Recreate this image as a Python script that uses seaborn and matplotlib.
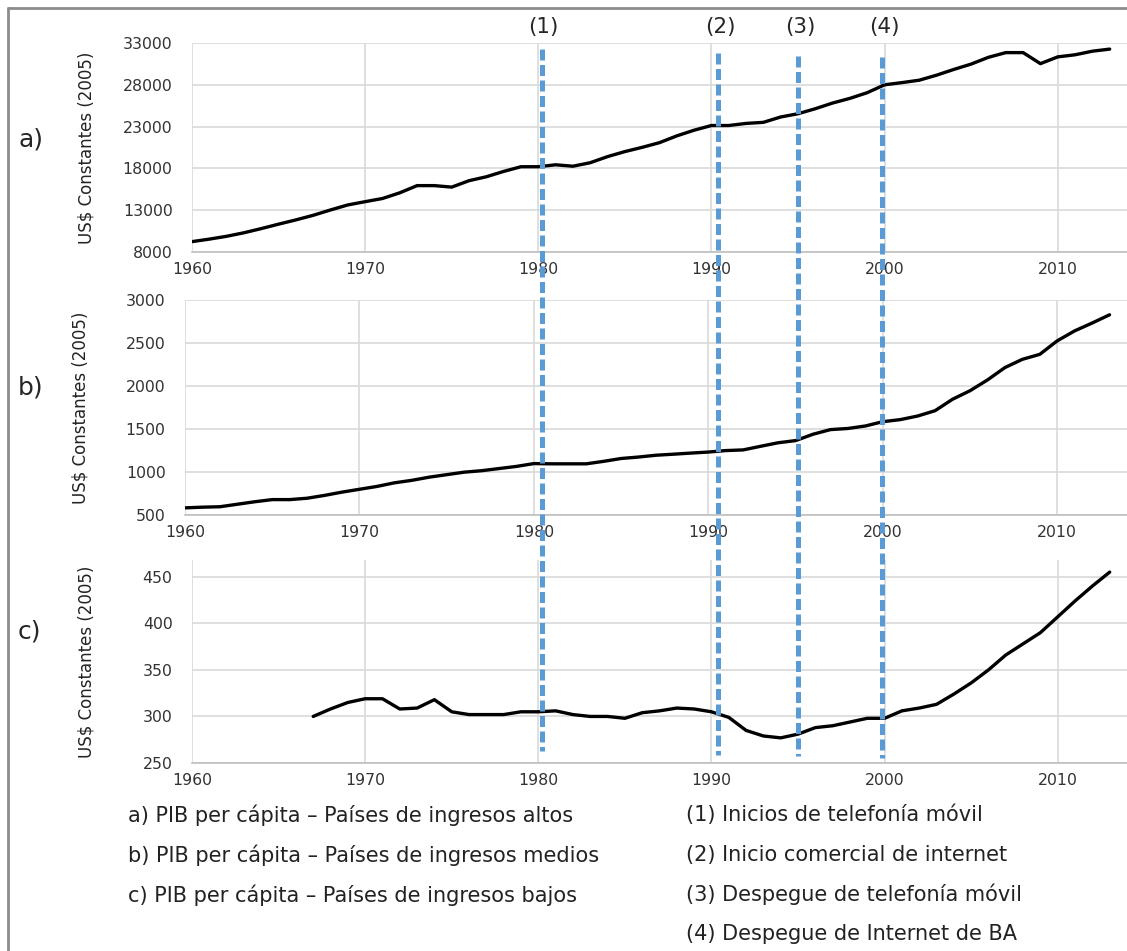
import matplotlib
matplotlib.use("Agg")
import matplotlib.pyplot as plt
from matplotlib.lines import Line2D
import seaborn as sns
import pandas as pd


years = list(range(1960, 2014))
years_low = list(range(1967, 2014))

pib_altos = [9240, 9540, 9880, 10300, 10800, 11330, 11840, 12390, 13030, 13630,
             14020, 14400, 15080, 15940, 15940, 15760, 16530, 17000, 17640, 18200,
             18200, 18430, 18260, 18680, 19410, 20010, 20520, 21080, 21890, 22570,
             23130, 23130, 23380, 23510, 24150, 24540, 25140, 25820, 26380, 27060,
             28000, 28260, 28550, 29150, 29840, 30480, 31290, 31850, 31850, 30530,
             31340, 31590, 32020, 32270]

pib_medios = [583, 591, 596, 625, 654, 679, 679, 695, 728, 766,
              799, 832, 874, 903, 940, 969, 998, 1015, 1040, 1065,
              1098, 1095, 1095, 1095, 1124, 1157, 1174, 1195, 1207, 1220,
              1232, 1249, 1257, 1299, 1340, 1365, 1439, 1493, 1506, 1535,
              1585, 1609, 1651, 1713, 1846, 1945, 2070, 2214, 2310, 2368,
              2525, 2641, 2732, 2828]

pib_bajos = [300, 308, 315, 319, 319, 308, 309, 318, 305, 302,
             302, 302, 305, 305, 306, 302, 300, 300, 298, 304,
             306, 309, 308, 305, 299, 285, 279, 277, 281, 288,
             290, 294, 298, 298, 306, 309, 313, 324, 336, 350,
             366, 378, 390, 407, 424, 440, 455]

panel_letters = ["a)", "b)", "c)"]
letter_y = [139, 388, 632]
y_ticks = [list(range(8000, 33001, 5000)),
           list(range(500, 3001, 500)),
           list(range(250, 451, 50))]
y_limits = [(8000, 33000), (500, 3000), (250, 468)]
x_ticks = [1960, 1970, 1980, 1990, 2000, 2010]

event_years = [1980.2, 1990.4, 1995.0, 1999.85]
event_labels = ["(1)", "(2)", "(3)", "(4)"]
event_top = [32300, 31800, 31400, 31300]
event_bottom = [263, 259, 257, 255]

legend_left = ["a) PIB per cápita – Países de ingresos altos",
               "b) PIB per cápita – Países de ingresos medios",
               "c) PIB per cápita – Países de ingresos bajos"]
legend_right = ["(1) Inicios de telefonía móvil",
                "(2) Inicio comercial de internet",
                "(3) Despegue de telefonía móvil",
                "(4) Despegue de Internet de BA"]

sns.set_style("whitegrid", {"grid.color": "#d9d9d9", "axes.edgecolor": "#bfbfbf"})
plt.rcParams["font.family"] = ["DejaVu Sans"]

W, H = 1127, 951
fig = plt.figure(figsize=(W / 100, H / 100), dpi=100)

# axes boxes in pixels: left, top, bottom
boxes = [(192, 43, 252), (185, 300, 515), (192, 560, 763)]
series = [(years, pib_altos), (years, pib_medios), (years_low, pib_bajos)]
axes = []

for i, (left, top, bottom) in enumerate(boxes):
    ax = fig.add_axes([left / W, 1 - bottom / H, 1 - left / W, (bottom - top) / H])
    xs, ys = series[i]
    df = pd.DataFrame({"year": xs, "value": ys})
    sns.lineplot(data=df, x="year", y="value", ax=ax, color="black", linewidth=2.4)
    ax.set_xlim(1960, 2014)
    ax.set_ylim(*y_limits[i])
    ax.set_xticks(x_ticks)
    ax.set_yticks(y_ticks[i])
    ax.tick_params(axis="both", length=0, labelsize=11.3, colors="#333333")
    ax.tick_params(axis="y", pad=14)
    ax.tick_params(axis="x", pad=7.5)
    ax.grid(True, linewidth=1.2)
    for side in ["top", "right", "left"]:
        ax.spines[side].set_visible(False)
    ax.spines["bottom"].set_color("#bfbfbf")
    ax.spines["bottom"].set_linewidth(1.2)
    ax.set_xlabel("")
    ax.set_ylabel("US$ Constantes (2005)", fontsize=12, color="#222222")
    ax.yaxis.set_label_coords(-96 / (W - left), 0.5)
    fig.text(18 / W, 1 - letter_y[i] / H, panel_letters[i],
             fontsize=18, va="center", ha="left")
    axes.append(ax)

# event lines spanning all panels
fig.canvas.draw()
inv = fig.transFigure.inverted()
for x, lab, yt, yb in zip(event_years, event_labels, event_top, event_bottom):
    p_top = inv.transform(axes[0].transData.transform((x, yt)))
    p_bot = inv.transform(axes[2].transData.transform((x, yb)))
    fig.add_artist(Line2D([p_top[0], p_bot[0]], [p_top[1], p_bot[1]],
                          transform=fig.transFigure, color="#5b9bd5",
                          linewidth=3.6, dashes=(2.2, 0.9)))
    fig.text(p_top[0] + 2 / W, 1 - 27 / H, lab, fontsize=15.5,
             ha="center", va="center")

# frame around the figure (top and left edges visible)
fig.add_artist(Line2D([8 / W, 8 / W], [0, 1 - 8 / H], transform=fig.transFigure,
                      color="#8c8c8c", linewidth=2))
fig.add_artist(Line2D([8 / W, 1], [1 - 8 / H, 1 - 8 / H], transform=fig.transFigure,
                      color="#8c8c8c", linewidth=2))

for j, txt in enumerate(legend_left):
    fig.text(128 / W, 1 - (815 + 40 * j) / H, txt, fontsize=15,
             ha="left", va="center", color="#222222")
for j, txt in enumerate(legend_right):
    fig.text(686 / W, 1 - (815 + 39.5 * j) / H, txt, fontsize=15,
             ha="left", va="center", color="#222222")

fig.savefig("out.png", dpi=100)
